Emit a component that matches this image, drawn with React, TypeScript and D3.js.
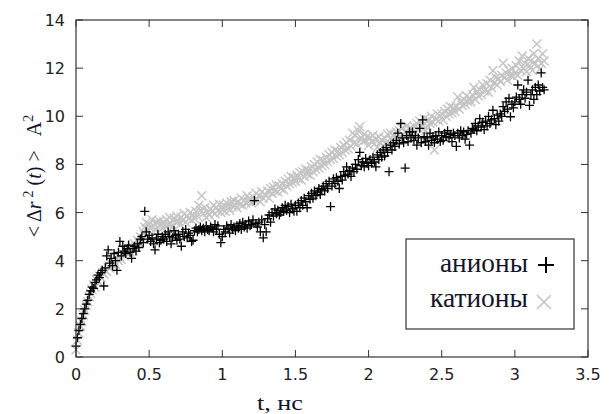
import React from "react";
import * as d3 from "d3";

// sampling step of the time series, ns
const STEP = 0.01;
// anions: <Δr²(t)>, one value per step (rows of 0.1 ns)
const anions: number[] = [
  0.45, 0.8, 1.1, 1.35, 1.6, 1.8, 2.0, 2.2, 2.35, 2.6,
  2.75, 2.9, 2.85, 3.1, 3.2, 3.4, 3.3, 3.5, 3.6, 2.95,
  3.7, 4.2, 4.45, 3.9, 4.1, 3.8, 4.3, 4.0, 3.6, 4.35,
  4.8, 4.2, 4.6, 4.4, 4.3, 4.5, 4.65, 4.35, 4.1, 4.5,
  4.6, 4.4, 4.7, 4.55, 4.9, 5.0, 4.75, 6.05, 5.2, 4.9,
  5.05, 4.8, 4.95, 4.7, 4.45, 4.9, 5.1, 4.75, 4.85, 5.0,
  4.9, 5.1, 4.8, 5.2, 5.0, 4.7, 4.95, 5.25, 5.05, 4.85,
  5.1, 4.9, 4.6, 5.2, 5.0, 5.3, 4.95, 5.15, 5.05, 4.8,
  4.85, 5.25, 5.35, 5.2, 5.3, 5.4, 5.25, 5.35, 5.2, 5.45,
  5.3, 5.25, 5.4, 5.35, 5.2, 5.5, 5.3, 5.45, 5.1, 4.75,
  5.0, 5.3, 5.2, 5.45, 5.35, 5.15, 5.5, 5.3, 5.4, 5.25,
  5.45, 5.35, 5.55, 5.3, 5.6, 5.4, 5.5, 5.35, 5.65, 5.45,
  5.5, 5.7, 6.5, 5.55, 5.4, 5.6, 5.2, 5.7, 4.95, 5.5,
  5.2, 5.75, 5.9, 5.6, 6.0, 5.85, 6.15, 5.95, 6.1, 5.9,
  6.0, 6.2, 6.05, 6.3, 6.1, 6.25, 6.0, 6.35, 6.15, 6.05,
  6.3, 6.05, 6.4, 6.2, 6.5, 6.3, 6.6, 6.45, 6.2, 6.7,
  6.55, 6.8, 6.6, 6.9, 6.7, 6.85, 7.0, 6.75, 6.95, 7.1,
  6.9, 7.2, 7.0, 7.3, 6.25, 7.1, 7.4, 7.2, 7.45, 7.3,
  7.0, 7.5, 7.35, 7.7, 7.55, 7.9, 7.6, 7.75, 7.5, 7.85,
  7.7, 8.0, 7.8, 8.2, 8.5, 7.95, 8.1, 7.9, 8.25, 8.05,
  7.95, 8.2, 8.05, 8.3, 8.1, 7.9, 8.4, 8.2, 8.5, 8.3,
  8.6, 8.35, 8.7, 8.5, 7.7, 8.8, 8.6, 8.9, 8.75, 9.0,
  9.3, 8.85, 9.7, 9.1, 8.9, 7.85, 9.2, 8.95, 9.35, 9.1,
  9.35, 9.0, 9.2, 8.8, 9.1, 9.5, 8.9, 9.85, 9.15, 8.95,
  9.1, 8.8, 9.3, 9.0, 9.15, 8.9, 9.2, 9.05, 9.35, 8.95,
  9.2, 9.0, 9.3, 9.15, 9.4, 9.1, 9.25, 8.95, 9.3, 9.2,
  8.75, 9.3, 9.1, 9.4, 9.2, 9.35, 9.05, 9.25, 9.4, 8.8,
  9.3, 9.5, 9.45, 9.7, 9.4, 9.6, 9.9, 9.55, 9.75, 9.45,
  9.8, 9.6, 10.0, 9.7, 9.85, 10.25, 9.9, 9.65, 10.05, 9.8,
  10.1, 10.0, 10.4, 10.2, 10.6, 10.3, 10.75, 9.98, 10.5, 10.35,
  10.6, 10.8, 11.3, 10.7, 10.5, 10.9, 11.1, 10.75, 11.0, 11.5,
  10.45, 10.9, 11.1, 10.7, 11.2, 10.9, 11.3, 11.05, 11.8, 11.2,
  11.1,
];
// cations
const cations: number[] = [
  0.3, 0.7, 1.0, 1.3, 1.5, 1.75, 1.95, 2.15, 2.3, 2.5,
  2.65, 2.8, 3.0, 2.9, 3.2, 3.15, 3.35, 3.3, 3.5, 3.45,
  3.6, 3.55, 3.75, 3.7, 3.9, 3.8, 4.0, 3.85, 4.1, 4.0,
  4.15, 4.05, 4.3, 4.2, 4.4, 4.3, 4.5, 4.35, 4.6, 4.45,
  4.7, 4.6, 4.85, 4.75, 5.0, 4.9, 5.2, 5.4, 5.6, 5.3,
  5.5, 5.35, 5.7, 5.45, 5.3, 5.6, 5.4, 5.65, 5.5, 5.35,
  5.6, 5.45, 5.7, 5.5, 5.8, 5.55, 5.4, 5.75, 5.6, 5.85,
  5.65, 5.5, 5.8, 5.7, 5.95, 5.6, 5.85, 5.75, 6.0, 5.7,
  5.9, 5.75, 6.05, 5.85, 6.3, 6.1, 6.7, 5.95, 6.2, 5.8,
  6.0, 5.9, 6.15, 6.05, 6.3, 5.95, 6.2, 6.1, 6.35, 6.0,
  6.15, 6.3, 6.05, 6.4, 6.2, 6.1, 6.45, 6.25, 6.5, 6.3,
  6.2, 6.45, 6.35, 6.6, 6.3, 6.5, 6.4, 6.7, 6.45, 6.55,
  6.4, 6.65, 6.5, 6.8, 6.55, 6.7, 6.45, 6.85, 6.6, 6.75,
  6.7, 6.9, 6.6, 7.0, 6.8, 7.05, 6.9, 7.15, 6.85, 7.1,
  7.0, 7.2, 6.95, 7.3, 7.1, 7.4, 7.2, 7.5, 7.25, 7.45,
  7.3, 7.55, 7.4, 7.65, 7.35, 7.7, 7.5, 7.8, 7.6, 7.75,
  7.55, 7.9, 7.7, 8.0, 7.8, 8.1, 7.85, 8.2, 7.95, 8.15,
  8.0, 8.3, 8.1, 8.4, 8.2, 8.5, 8.25, 8.6, 8.35, 8.55,
  8.4, 8.7, 8.5, 8.8, 8.6, 8.9, 8.65, 9.0, 8.75, 9.3,
  8.9, 9.2, 8.85, 9.4, 9.57, 9.1, 8.95, 9.25, 9.0, 9.15,
  8.8, 9.1, 8.95, 9.2, 8.85, 9.05, 8.7, 9.15, 8.9, 9.0,
  8.75, 9.1, 8.9, 9.25, 8.8, 9.3, 9.0, 9.2, 8.85, 9.35,
  9.05, 9.4, 9.15, 9.5, 9.2, 9.35, 9.6, 9.3, 9.5, 9.25,
  9.45, 9.6, 9.3, 9.7, 9.5, 9.8, 9.55, 9.65, 9.9, 9.4,
  9.6, 9.85, 9.7, 10.0, 9.75, 8.6, 9.9, 10.1, 9.8, 10.0,
  10.1, 9.85, 10.2, 10.0, 10.3, 10.1, 10.4, 10.15, 10.35, 10.2,
  10.4, 10.8, 10.3, 10.6, 10.45, 10.7, 10.5, 10.85, 10.6, 10.75,
  10.6, 10.9, 11.2, 10.7, 11.0, 10.85, 11.1, 10.9, 11.3, 11.05,
  11.1, 11.35, 11.0, 11.5, 11.2, 11.9, 11.4, 11.6, 11.3, 11.55,
  11.45, 11.7, 12.2, 11.6, 11.8, 11.5, 11.9, 11.7, 12.0, 11.65,
  11.8, 12.1, 11.7, 12.3, 11.9, 12.5, 12.0, 12.2, 11.85, 12.4,
  12.1, 12.3, 11.9, 12.6, 12.2, 13.0, 12.4, 11.95, 12.2, 12.6,
  12.3,
];
const xTicks = [0, 0.5, 1, 1.5, 2, 2.5, 3, 3.5];
const yTicks = [0, 2, 4, 6, 8, 10, 12, 14];
const legendLabels = ["анионы", "катионы"];

const W = 611, H = 414;
const M = { left: 76, right: 588, top: 20, bottom: 357 };
const AXIS = "#333";
const GRAY = "#c4c4c4";
const TICK_FONT = "'DejaVu Sans', sans-serif";
const SERIF = "'Liberation Serif', 'DejaVu Serif', 'Noto Serif', serif";
const TEXT = "#14142a";

function Plus({ x, y, s = 4.5, w = 1.3 }: { x: number; y: number; s?: number; w?: number }) {
  return <path d={`M${x - s},${y}H${x + s}M${x},${y - s}V${y + s}`} stroke="#000" strokeWidth={w} fill="none" />;
}
function Cross({ x, y, s = 4.5, w = 1.4 }: { x: number; y: number; s?: number; w?: number }) {
  return (
    <path d={`M${x - s},${y - s}L${x + s},${y + s}M${x - s},${y + s}L${x + s},${y - s}`} stroke={GRAY} strokeWidth={w} fill="none" />
  );
}

export default function App() {
  const x = d3.scaleLinear().domain([0, 3.5]).range([M.left, M.right]);
  const y = d3.scaleLinear().domain([0, 14]).range([M.bottom, M.top]);
  const tk = 7;
  return (
    <svg width={W} height={H} style={{ position: "absolute", left: 0, top: 0, background: "#fff" }}>
      <rect x={0} y={0} width={W} height={H} fill="#fff" />
      {xTicks.map((t) => (
        <g key={"x" + t}>
          <line x1={x(t)} x2={x(t)} y1={M.bottom} y2={M.bottom - tk} stroke={AXIS} />
          <line x1={x(t)} x2={x(t)} y1={M.top} y2={M.top + tk} stroke={AXIS} />
          <text x={x(t)} y={M.bottom + 23} textAnchor="middle" style={{ fontFamily: TICK_FONT, fontSize: 16 }} fill="#222">{t}</text>
        </g>
      ))}
      {yTicks.map((t) => (
        <g key={"y" + t}>
          <line x1={M.left} x2={M.left + tk} y1={y(t)} y2={y(t)} stroke={AXIS} />
          <line x1={M.right} x2={M.right - tk} y1={y(t)} y2={y(t)} stroke={AXIS} />
          <text x={M.left - 11} y={y(t) + 6} textAnchor="end" style={{ fontFamily: TICK_FONT, fontSize: 16 }} fill="#222">{t}</text>
        </g>
      ))}
      <g>
        {cations.map((v, i) => (
          <Cross key={"c" + i} x={x(i * STEP)} y={y(v)} />
        ))}
      </g>
      <g>
        {anions.map((v, i) => (
          <Plus key={"a" + i} x={x(i * STEP)} y={y(v)} />
        ))}
      </g>
      <rect x={M.left} y={M.top} width={M.right - M.left} height={M.bottom - M.top} fill="none" stroke={AXIS} strokeWidth={1.2} />
      <rect x={406} y={239} width={168} height={90} fill="#fff" stroke={AXIS} strokeWidth={1.2} />
      <text x={528} y={272} textAnchor="end" textLength={88} lengthAdjust="spacingAndGlyphs" style={{ fontFamily: SERIF, fontSize: 27 }} fill={TEXT}>{legendLabels[0]}</text>
      <Plus x={546} y={265} s={8} w={2} />
      <text x={528} y={307} textAnchor="end" textLength={98} lengthAdjust="spacingAndGlyphs" style={{ fontFamily: SERIF, fontSize: 27 }} fill={TEXT}>{legendLabels[1]}</text>
      <Cross x={544} y={302} s={7} w={1.6} />
      <text x={280} y={410} textAnchor="middle" textLength={46} lengthAdjust="spacingAndGlyphs" style={{ fontFamily: SERIF, fontSize: 22 }} fill={TEXT}>t, нс</text>
      <text transform="translate(41,176) rotate(-90)" textAnchor="middle" style={{ fontFamily: SERIF, fontSize: 20 }} fill={TEXT}>
        {"< Δ"}
        <tspan fontStyle="italic">r</tspan>
        <tspan dx={4} dy={-8} fontSize={14}>2</tspan>
        <tspan dx={5} dy={8}>(</tspan>
        <tspan fontStyle="italic">t</tspan>
        {")  >"}
        <tspan dx={14}>A</tspan>
        <tspan dy={-8} fontSize={14}>2</tspan>
      </text>
    </svg>
  );
}
